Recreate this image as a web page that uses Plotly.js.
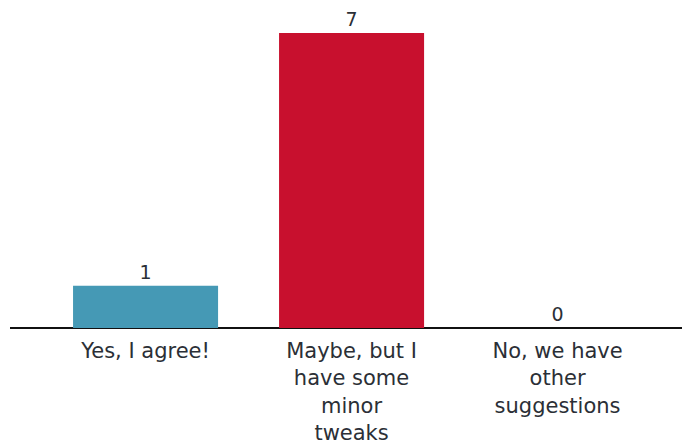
<!DOCTYPE html>
<html>
<head>
<meta charset="utf-8">
<script src="https://cdn.plot.ly/plotly-3.0.1.min.js"></script>
<style>html,body{margin:0;padding:0;background:#fff;}#chart{width:682px;height:444px;}</style>
</head>
<body>
<div id="chart"></div>
<script>
const categories = ["Yes, I agree!", "Maybe, but I<br>have some<br>minor<br>tweaks", "No, we have<br>other<br>suggestions"];
const values = [1, 7, 0];
const colors = ["#4599b5", "#c8102e", "#888888"];

const trace = {
  type: "bar",
  x: [0, 1, 2],
  y: values,
  width: 0.704,
  marker: {color: colors},
  text: values.map(String),
  textposition: "outside",
  cliponaxis: false,
  textfont: {family: "DejaVu Sans, sans-serif", size: 19, color: "#2b2f36"},
  hoverinfo: "none"
};

const layout = {
  width: 682, height: 444,
  margin: {l: 10, r: 0, t: 0, b: 116},
  paper_bgcolor: "#ffffff",
  plot_bgcolor: "#ffffff",
  showlegend: false,
  xaxis: {
    range: [-0.658, 2.604],
    tickmode: "array",
    tickvals: [0, 1, 2],
    ticktext: categories,
    showgrid: false,
    zeroline: false,
    showline: false,
    ticks: "",
    ticklabelstandoff: 8,
    tickfont: {family: "DejaVu Sans, sans-serif", size: 21, color: "#2b2f36"},
    fixedrange: true
  },
  yaxis: {
    range: [0, 7.78],
    showgrid: false,
    zeroline: true,
    zerolinecolor: "#111111",
    zerolinewidth: 2.5,
    showticklabels: false,
    ticks: "",
    fixedrange: true
  }
};

Plotly.newPlot("chart", [trace], layout, {displayModeBar: false, staticPlot: true});
</script>
</body>
</html>
